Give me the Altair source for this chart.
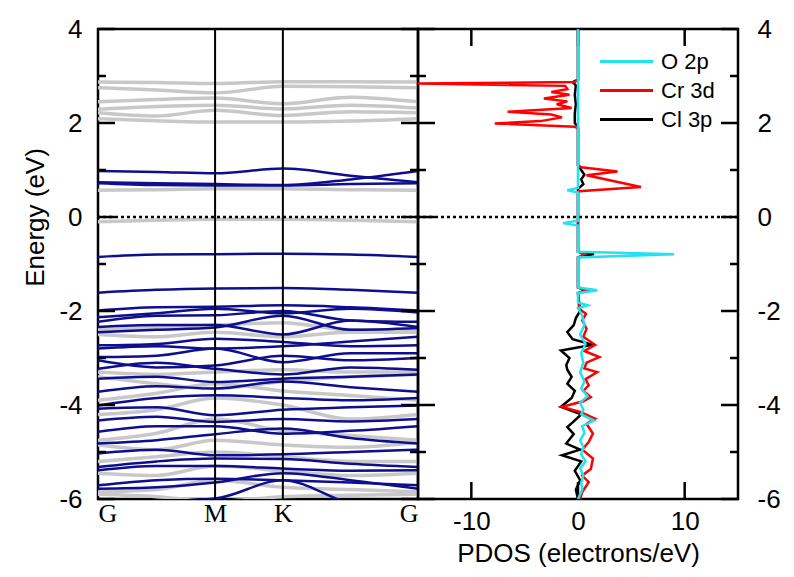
import altair as alt
import pandas as pd

# ---------------- data ----------------
k_pos = [0.0, 0.289, 0.577, 0.911, 1.244, 1.577]
k_ticks = [0.0, 0.577, 0.911, 1.577]
k_names = ["G", "M", "K", "G"]

blue_bands = [
    [0.98, 0.96, 0.93, 1.03, 0.88, 0.74],
    [0.74, 0.72, 0.70, 0.68, 0.80, 0.98],
    [0.72, 0.68, 0.67, 0.67, 0.70, 0.72],
    [-0.85, -0.80, -0.79, -0.78, -0.80, -0.85],
    [-1.61, -1.55, -1.52, -1.51, -1.55, -1.61],
    [-1.99, -1.92, -1.91, -1.88, -1.92, -1.99],
    [-2.13, -2.05, -1.95, -2.05, -1.95, -2.03],
    [-2.23, -2.10, -2.09, -2.00, -2.20, -2.23],
    [-2.34, -2.30, -2.30, -2.50, -2.20, -2.34],
    [-2.45, -2.40, -2.35, -2.10, -2.40, -2.36],
    [-2.73, -2.70, -2.59, -2.66, -2.75, -2.73],
    [-2.80, -2.75, -2.80, -2.75, -2.65, -2.55],
    [-2.98, -2.95, -2.80, -3.09, -2.90, -2.90],
    [-3.05, -3.20, -3.16, -2.95, -3.05, -3.00],
    [-3.23, -3.10, -3.23, -3.35, -3.20, -3.25],
    [-3.44, -3.40, -3.51, -3.44, -3.40, -3.35],
    [-3.72, -3.60, -3.65, -3.50, -3.62, -3.72],
    [-4.01, -3.85, -3.79, -3.85, -3.90, -3.85],
    [-4.08, -4.05, -4.22, -4.10, -4.05, -4.01],
    [-4.33, -4.25, -4.36, -4.30, -4.35, -4.30],
    [-4.57, -4.45, -4.45, -4.61, -4.55, -4.45],
    [-4.82, -4.75, -4.62, -4.50, -4.70, -4.82],
    [-5.03, -4.95, -5.07, -5.05, -5.00, -4.95],
    [-5.32, -5.20, -5.14, -5.15, -5.25, -5.32],
    [-5.39, -5.30, -5.30, -5.35, -5.40, -5.39],
    [-5.71, -5.60, -5.57, -5.60, -5.65, -5.71],
    [-5.78, -5.75, -5.65, -5.45, -5.60, -5.78],
    [-6.10, -6.05, -5.99, -5.60, -6.10, -6.30],
]

grey_bands = [
    [2.87, 2.86, 2.84, 2.88, 2.88, 2.87],
    [2.75, 2.70, 2.64, 2.78, 2.77, 2.75],
    [2.45, 2.50, 2.53, 2.41, 2.55, 2.45],
    [2.29, 2.35, 2.38, 2.30, 2.38, 2.32],
    [2.22, 2.15, 2.27, 2.16, 2.24, 2.22],
    [2.09, 2.05, 2.02, 2.02, 2.04, 2.09],
    [0.57, 0.58, 0.60, 0.60, 0.58, 0.57],
    [-0.10, -0.07, -0.05, -0.05, -0.07, -0.10],
    [-2.40, -2.35, -2.30, -2.25, -2.40, -2.40],
    [-2.50, -2.55, -2.45, -2.55, -2.45, -2.45],
    [-3.30, -3.35, -3.30, -3.25, -3.30, -3.30],
    [-3.40, -3.55, -3.65, -3.50, -3.40, -3.35],
    [-3.90, -3.75, -3.55, -3.70, -3.80, -3.90],
    [-4.20, -4.10, -3.85, -4.00, -4.30, -4.20],
    [-4.75, -4.60, -4.30, -4.55, -4.65, -4.75],
    [-4.85, -4.95, -4.75, -4.85, -4.90, -4.80],
    [-5.20, -5.10, -5.00, -5.10, -5.20, -5.20],
    [-5.45, -5.50, -5.30, -5.40, -5.50, -5.45],
    [-5.85, -5.80, -5.60, -5.75, -5.80, -5.85],
    [-5.90, -5.95, -6.05, -5.95, -5.92, -5.90],
]

o2p_E = [4.0, 0.62, 0.57, 0.52, 0.00, -0.08, -0.13, -0.18, -0.74, -0.79, -0.86,
         -1.50, -1.56, -1.62, -1.82, -1.88, -1.94, -2.10, -2.30, -2.50, -2.70,
         -2.90, -3.10, -3.30, -3.50, -3.65, -3.81, -3.95, -4.10, -4.20, -4.33,
         -4.45, -4.60, -4.75, -4.90, -5.05, -5.20, -5.35, -5.50, -5.65, -5.80, -6.0]
o2p_v = [0, 0, -1.0, 0, 0, 0, -1.4, 0, 0, 9.0, 0,
         0, 1.8, 0, 0, 0.9, 0, 0.4, 0.6, 0.2, 0.7,
         0.3, 0.5, 0.2, 0.6, 0.3, 0.9, 0.2, 0.5, 0.3, 1.5,
         0.4, 0.6, 0.2, 0.5, 0.3, 0.7, 0.2, 0.5, 0.3, 0.4, 0]

cr3d_E = [4.0, 2.92, 2.87, 2.84, 2.79, 2.72, 2.66, 2.60, 2.52, 2.46, 2.40, 2.32,
          2.24, 2.18, 2.12, 2.04, 1.99, 1.92, 1.88, 1.10, 1.06, 0.97, 0.89, 0.64,
          0.55, 0.50, -0.74, -0.79, -0.86, -1.50, -1.56, -1.62, -1.95, -2.06,
          -2.20, -2.38, -2.55, -2.72, -2.85, -2.98, -3.10, -3.22, -3.30, -3.45,
          -3.58, -3.70, -3.83, -3.92, -4.04, -4.15, -4.29, -4.40, -4.61, -4.79,
          -4.95, -5.14, -5.36, -5.50, -5.64, -5.85, -6.0]
cr3d_v = [0, 0, -0.3, -15.5, -1.2, -1.0, -2.5, -0.8, -3.2, -1.0, -2.0, -0.6,
          -6.6, -2.5, -1.5, -3.5, -7.8, -0.3, 0, 0, 0.3, 3.7, 0.8, 5.9,
          0.1, 0, 0, 0.6, 0, 0, 0.9, 0, 0.1, 0.75,
          0.4, 0.8, 0.5, 1.6, 0.6, 2.0, 0.8, 0.6, 1.8, 0.7,
          1.0, 0.5, 1.2, 0.5, -1.5, 0.2, 1.6, 0.8, 1.4, 1.0,
          0.4, 1.4, 1.2, 0.4, 1.0, 0.4, 0.2]

cl3p_E = [4.0, 2.92, 2.87, 2.80, 2.60, 2.40, 2.20, 2.00, 1.92, 1.10, 1.00, 0.90,
          0.80, 0.70, 0.60, -0.74, -0.79, -0.86, -1.50, -1.56, -1.62, -2.00,
          -2.15, -2.30, -2.45, -2.60, -2.72, -2.84, -3.00, -3.15, -3.25, -3.40,
          -3.55, -3.70, -3.85, -4.04, -4.20, -4.35, -4.47, -4.62, -4.82, -4.95,
          -5.07, -5.20, -5.40, -5.60, -5.80, -6.0]
cl3p_v = [0, 0, -0.5, -0.2, -0.3, -0.2, -0.3, -0.3, 0, 0, 0.3, 0.6,
          0.3, 0.5, 0, 0, 1.5, 0, 0, 0.7, 0, 0.2,
          -0.2, -0.4, -1.0, -0.5, 1.4, -1.6, -0.8, -1.1, -1.0, -0.6,
          -1.0, -0.3, -0.6, -1.6, 0.3, -0.4, -1.0, -0.4, -1.1, 0.2,
          -1.5, 0.3, -0.3, 0.2, -0.2, 0]

orbitals = ["O 2p", "Cr 3d", "Cl 3p"]
orb_colors = ["#1FE3F0", "#FF0000", "#000000"]

major_E = [-6, -4, -2, 0, 2, 4]
minor_E = [-5, -3, -1, 1, 3]
pdos_ticks = [-10, 0, 10]

# ---------------- tables ----------------
rows = []
for spin, bands in (("up", blue_bands), ("down", grey_bands)):
    for i, b in enumerate(bands):
        for k, e in zip(k_pos, b):
            rows.append({"band": f"{spin}{i}", "spin": spin, "k": k, "E": e})
df_bands = pd.DataFrame(rows)

prow = []
for name, es, vs in (("O 2p", o2p_E, o2p_v), ("Cr 3d", cr3d_E, cr3d_v), ("Cl 3p", cl3p_E, cl3p_v)):
    assert len(es) == len(vs), name
    for e, v in zip(es, vs):
        prow.append({"orb": name, "E": e, "v": v})
df_pdos = pd.DataFrame(prow)

df_major = pd.DataFrame({"E": major_E})
df_minor = pd.DataFrame({"E": minor_E})
df_zero = pd.DataFrame({"E": [0]})
df_sym = pd.DataFrame({"k": k_ticks[1:3]})
df_xt = pd.DataFrame({"v": pdos_ticks})

# ---------------- styling ----------------
W, H = 320, 470
FONT = "Liberation Sans"
FS = 26
TW = 2.5
MAJ, MIN = 17, 8

yscale = alt.Scale(domain=[-6, 4], nice=False, zero=False)

Y_left = alt.Y("E:Q", scale=yscale,
               axis=alt.Axis(values=major_E, labelExpr="datum.value + ''", ticks=False,
                             domain=False, grid=False, labelFontSize=FS, labelFont=FONT,
                             labelPadding=16, title="Energy (eV)", titleFontSize=FS,
                             titleFont=FONT, titleFontWeight="normal", titlePadding=10,
                             titleY=188))
Y_right = alt.Y("E:Q", scale=yscale,
                axis=alt.Axis(orient="right", values=major_E, labelExpr="datum.value + ''",
                              ticks=False, domain=False, grid=False, labelFontSize=FS,
                              labelFont=FONT, labelPadding=19, title=None))

kexpr = " : ".join(
    f"datum.value < {t + 0.05} ? '{n}'" for t, n in zip(k_ticks[:-1], k_names[:-1])
) + f" : '{k_names[-1]}'"
X_k = alt.X("k:Q", scale=alt.Scale(domain=[k_pos[0], k_pos[-1]], nice=False, zero=False),
            axis=alt.Axis(values=k_ticks, labelExpr=kexpr, labelFlush=True, labelOverlap=False,
                          ticks=False, domain=False, grid=False, labelFont="Liberation Serif",
                          labelFontSize=FS, labelPadding=1, title=None))
X_p = alt.X("v:Q", scale=alt.Scale(domain=[-15, 15], nice=False, zero=False),
            axis=alt.Axis(values=pdos_ticks, labelExpr="datum.value + ''", ticks=False,
                          domain=False, grid=False, labelFontSize=FS, labelFont=FONT,
                          labelPadding=9, title="PDOS (electrons/eV)", titleFontSize=FS,
                          titleFont=FONT, titleFontWeight="normal", titlePadding=6))

# ---------------- left: bands ----------------
grey = alt.Chart(df_bands).transform_filter("datum.spin == 'down'").mark_line(
    color="#C8C8C8", strokeWidth=3.5, interpolate="monotone", clip=True
).encode(x=X_k, y=Y_left, detail="band:N")
blue = alt.Chart(df_bands).transform_filter("datum.spin == 'up'").mark_line(
    color="#0E0E8E", strokeWidth=2.5, interpolate="monotone", clip=True
).encode(x=X_k, y=Y_left, detail="band:N")
sym = alt.Chart(df_sym).mark_rule(color="black", strokeWidth=2).encode(x=X_k)
zero_l = alt.Chart(df_zero).mark_rule(color="black", strokeWidth=2.5, strokeDash=[3, 3]).encode(y=Y_left)


def yticks(df, Y, x0, x1):
    return alt.Chart(df).mark_rule(color="black", strokeWidth=TW).encode(
        y=Y, x=alt.value(x0), x2=alt.value(x1))


left = alt.layer(
    grey, blue, sym, zero_l,
    yticks(df_major, Y_left, 0, MAJ), yticks(df_minor, Y_left, 0, MIN),
    yticks(df_major, Y_left, W - MAJ, W), yticks(df_minor, Y_left, W - MIN, W),
).properties(width=W, height=H)

# ---------------- right: PDOS ----------------
C = alt.Color("orb:N", scale=alt.Scale(domain=orbitals, range=orb_colors),
              legend=alt.Legend(title=None, orient="none", legendX=517, legendY=21,
                                symbolType="M-2.65,0H2.65", symbolSize=400,
                                symbolStrokeWidth=3, labelFontSize=22, labelFont=FONT,
                                rowPadding=6, labelOffset=23))


def pdos_line(name):
    return alt.Chart(df_pdos).transform_filter(f"datum.orb == '{name}'").mark_line(
        strokeWidth=2.5, clip=True
    ).encode(x=X_p, y=Y_right, color=C, order=alt.Order("E:Q", sort="descending"))


zero_r = alt.Chart(df_zero).mark_rule(color="black", strokeWidth=2.5, strokeDash=[3, 3]).encode(y=Y_right)
xt_top = alt.Chart(df_xt).mark_rule(color="black", strokeWidth=TW).encode(
    x=X_p, y=alt.value(0), y2=alt.value(MAJ))
xt_bot = alt.Chart(df_xt).mark_rule(color="black", strokeWidth=TW).encode(
    x=X_p, y=alt.value(H), y2=alt.value(H - MAJ))

right = alt.layer(
    zero_r, xt_top, xt_bot,
    yticks(df_major, Y_right, 0, MAJ), yticks(df_minor, Y_right, 0, MIN),
    yticks(df_major, Y_right, W - MAJ, W), yticks(df_minor, Y_right, W - MIN, W),
    pdos_line("Cl 3p"), pdos_line("Cr 3d"), pdos_line("O 2p"),
).properties(width=W, height=H)

chart = alt.hconcat(left, right, spacing=0, bounds="flush").properties(
    padding={"left": 21, "top": 14, "right": 5, "bottom": 5},
    background="white",
).configure_view(stroke="black", strokeWidth=2.5).configure_axis(
    labelColor="black", titleColor="black")

chart.save("out.html", embed_options={"renderer": "svg", "actions": False})
